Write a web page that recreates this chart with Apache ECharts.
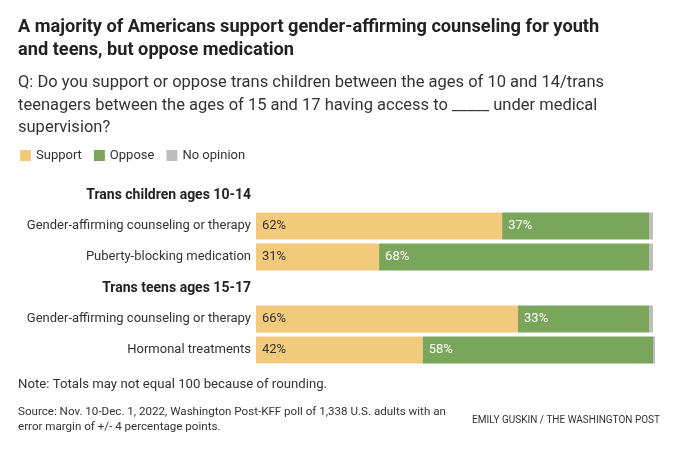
<!DOCTYPE html>
<html>
<head>
<meta charset="utf-8">
<script src="https://cdn.jsdelivr.net/npm/echarts@6/dist/echarts.min.js"></script>
<style>html,body{margin:0;padding:0;background:#fff}#c{width:680px;height:458px}</style>
</head>
<body>
<div id="c"></div>
<script>
var groups = ['Trans children ages 10-14', 'Trans teens ages 15-17'];
var groupItems = [
  ['Gender-affirming counseling or therapy', 'Puberty-blocking medication'],
  ['Gender-affirming counseling or therapy', 'Hormonal treatments']
];
var seriesNames = ['Support', 'Oppose', 'No opinion'];
var support = [62, 31, 66, 42];
var oppose = [37, 68, 33, 58];
var noOpinion = [1, 1, 1, 0.5];

var FONT = "'Roboto', sans-serif";
var colors = ['#f3c97c', '#79a65a', '#bdbdbd'];

// Build rows: header row + item rows
var rowKeys = [], rowLabels = [], rowIsHeader = [], rowDataIdx = [];
var k = 0;
groups.forEach(function (g, gi) {
  rowKeys.push('h' + gi); rowLabels.push(g); rowIsHeader.push(true); rowDataIdx.push(-1);
  groupItems[gi].forEach(function (it) {
    rowKeys.push('r' + k); rowLabels.push(it); rowIsHeader.push(false); rowDataIdx.push(k);
    k++;
  });
});
function col(arr) {
  return rowDataIdx.map(function (i) { return i < 0 ? null : arr[i]; });
}
var seriesVals = [support, oppose, noOpinion];

var chart = echarts.init(document.getElementById('c'), null, {renderer: 'canvas'});
var option = {
  animation: false,
  color: colors,
  textStyle: {fontFamily: FONT},
  legend: {
    data: seriesNames,
    left: 15, top: 144,
    itemWidth: 11, itemHeight: 11, itemGap: 12,
    icon: 'rect',
    textStyle: {fontFamily: FONT, fontSize: 13, color: '#333'}
  },
  grid: {left: 256, right: 25, top: 179.5, height: 186, containLabel: false},
  xAxis: {type: 'value', min: 0, max: 100.5, show: false},
  yAxis: {
    type: 'category', inverse: true, data: rowKeys,
    axisLine: {show: false}, axisTick: {show: false}, splitLine: {show: false},
    axisLabel: {
      margin: 5,
      fontFamily: FONT, fontSize: 13, color: '#333',
      formatter: function (v) {
        var i = rowKeys.indexOf(v);
        return rowIsHeader[i] ? '{h|' + rowLabels[i] + '}' : rowLabels[i];
      },
      rich: {h: {fontFamily: FONT, fontSize: 14, fontWeight: 'bold', color: '#222'}}
    }
  },
  series: seriesNames.map(function (name, si) {
    return {
      name: name, type: 'bar', stack: 'total', barWidth: 27,
      data: col(seriesVals[si]),
      label: {
        show: si < 2, position: 'insideLeft', distance: 6,
        fontFamily: FONT, fontSize: 13,
        color: si === 0 ? '#333' : '#fff',
        formatter: function (p) { return p.value == null ? '' : p.value + '%'; }
      }
    };
  }),
  graphic: [
    {type: 'text', left: 18, top: 16, style: {
      text: 'A majority of Americans support gender-affirming counseling for youth\nand teens, but oppose medication',
      font: 'bold 18.2px ' + FONT, fill: '#222', lineHeight: 23}},
    {type: 'text', left: 18, top: 72, style: {
      text: 'Q: Do you support or oppose trans children between the ages of 10 and 14/trans\nteenagers between the ages of 15 and 17 having access to _____ under medical\nsupervision?',
      font: '16.5px ' + FONT, fill: '#333', lineHeight: 22.5}},
    {type: 'text', left: 18, top: 378, style: {
      text: 'Note: Totals may not equal 100 because of rounding.',
      font: '13.2px ' + FONT, fill: '#333'}},
    {type: 'text', left: 18, top: 405, style: {
      text: 'Source: Nov. 10-Dec. 1, 2022, Washington Post-KFF poll of 1,338 U.S. adults with an\nerror margin of +/- 4 percentage points.',
      font: '11.6px ' + FONT, fill: '#333', lineHeight: 15}},
    {type: 'text', right: 20, top: 415, style: {
      text: 'EMILY GUSKIN / THE WASHINGTON POST',
      font: '10px ' + FONT, fill: '#333'}}
  ]
};
chart.setOption(option);
</script>
</body>
</html>
